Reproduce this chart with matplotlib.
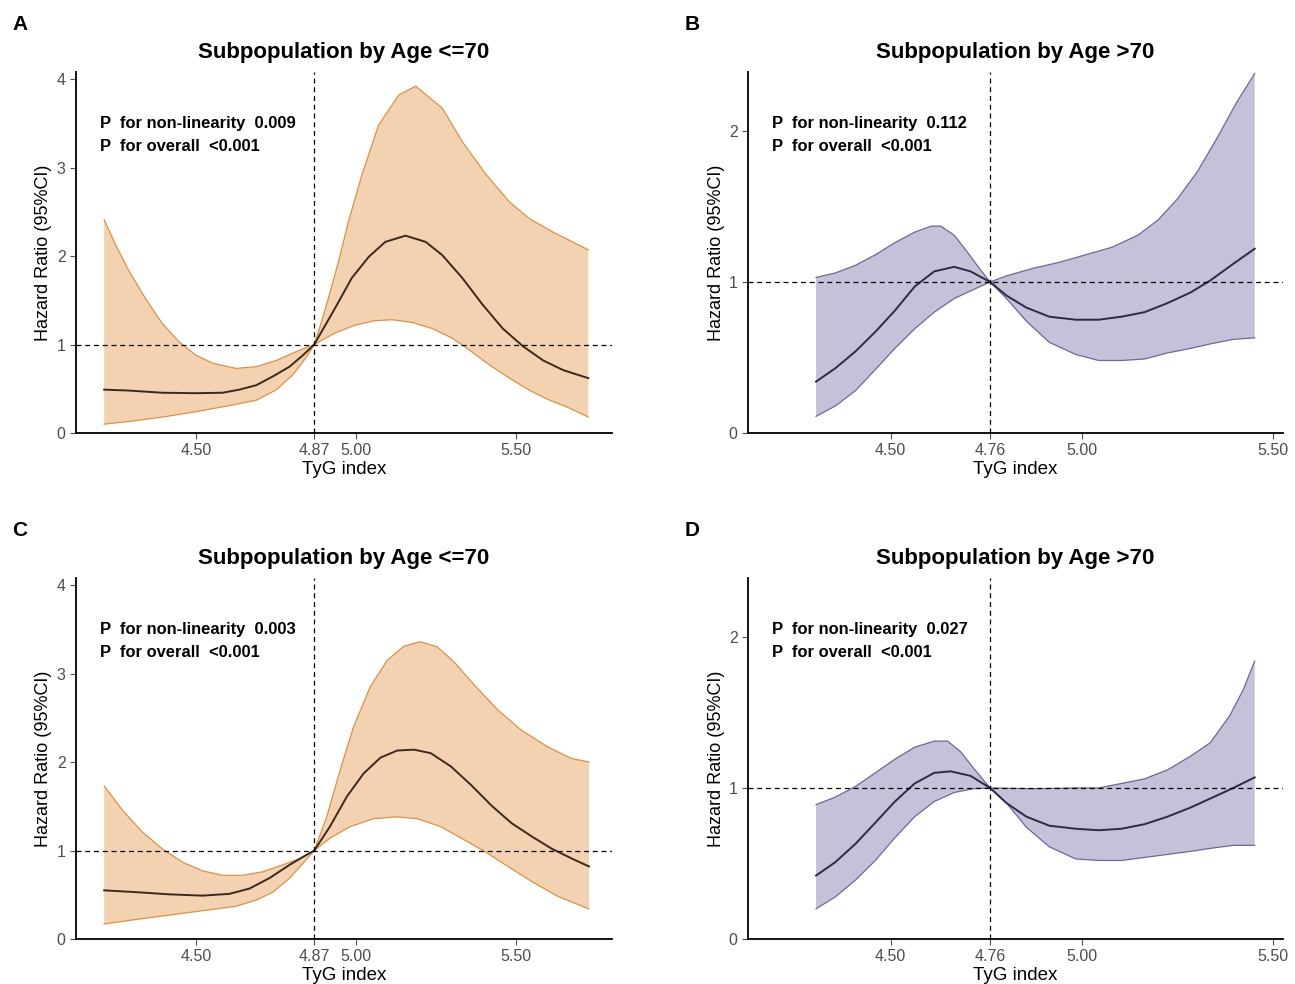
import numpy as np
import matplotlib
matplotlib.use("Agg")
import matplotlib.pyplot as plt

plt.rcParams['font.family'] = ['Liberation Sans', 'DejaVu Sans']

# ---- panel A (age <= 70) ----
a_hr_x = [4.214, 4.290, 4.395, 4.500, 4.584, 4.636, 4.689, 4.741, 4.793, 4.835, 4.870, 4.935,
          4.987, 5.040, 5.092, 5.155, 5.218, 5.270, 5.333, 5.396, 5.459, 5.522, 5.585, 5.648, 5.726]
a_hr = [0.49, 0.48, 0.455, 0.45, 0.455, 0.49, 0.54, 0.64, 0.75, 0.88, 1.00, 1.41,
        1.75, 1.99, 2.16, 2.23, 2.16, 2.01, 1.75, 1.45, 1.18, 0.98, 0.82, 0.71, 0.62]
a_lo_x = [4.214, 4.290, 4.395, 4.500, 4.605, 4.689, 4.752, 4.804, 4.846, 4.870, 4.935, 4.998,
          5.061, 5.113, 5.176, 5.239, 5.302, 5.354, 5.417, 5.480, 5.543, 5.606, 5.668, 5.726]
a_lo = [0.10, 0.13, 0.18, 0.24, 0.31, 0.37, 0.49, 0.66, 0.86, 1.00, 1.13, 1.22,
        1.27, 1.28, 1.25, 1.18, 1.07, 0.94, 0.77, 0.62, 0.48, 0.37, 0.28, 0.18]
a_hi_x = [4.214, 4.248, 4.290, 4.343, 4.395, 4.448, 4.500, 4.552, 4.626, 4.689, 4.752, 4.814,
          4.870, 4.893, 4.914, 4.946, 4.977, 5.019, 5.071, 5.134, 5.187, 5.270, 5.333, 5.407,
          5.480, 5.543, 5.616, 5.726]
a_hi = [2.41, 2.14, 1.84, 1.52, 1.24, 1.03, 0.88, 0.79, 0.73, 0.75, 0.82, 0.92,
        1.00, 1.26, 1.52, 1.94, 2.39, 2.92, 3.48, 3.82, 3.92, 3.67, 3.29, 2.92,
        2.61, 2.42, 2.27, 2.07]

# ---- panel B (age > 70) ----
b_hr_x = [4.305, 4.356, 4.408, 4.460, 4.511, 4.563, 4.614, 4.666, 4.709, 4.760, 4.803,
          4.855, 4.915, 4.984, 5.044, 5.104, 5.164, 5.224, 5.284, 5.336, 5.396, 5.452]
b_hr = [0.34, 0.43, 0.54, 0.67, 0.81, 0.97, 1.07, 1.10, 1.07, 1.00, 0.91,
        0.83, 0.77, 0.75, 0.75, 0.77, 0.80, 0.86, 0.93, 1.01, 1.12, 1.22]
b_lo_x = [4.305, 4.356, 4.408, 4.460, 4.511, 4.563, 4.614, 4.666, 4.717, 4.760, 4.803,
          4.855, 4.915, 4.984, 5.044, 5.104, 5.164, 5.224, 5.284, 5.336, 5.396, 5.452]
b_lo = [0.11, 0.18, 0.28, 0.42, 0.56, 0.69, 0.80, 0.89, 0.95, 1.00, 0.89,
        0.74, 0.60, 0.52, 0.48, 0.48, 0.49, 0.53, 0.56, 0.59, 0.62, 0.63]
b_hi_x = [4.305, 4.356, 4.408, 4.460, 4.511, 4.563, 4.606, 4.631, 4.666, 4.700, 4.735, 4.760,
          4.803, 4.872, 4.941, 5.010, 5.079, 5.147, 5.199, 5.250, 5.302, 5.353, 5.405, 5.452]
b_hi = [1.03, 1.06, 1.11, 1.18, 1.26, 1.33, 1.37, 1.37, 1.31, 1.20, 1.08, 1.00,
        1.04, 1.09, 1.13, 1.18, 1.23, 1.31, 1.41, 1.55, 1.73, 1.95, 2.19, 2.38]

# ---- panel C (age <= 70) ----
c_hr_x = [4.214, 4.312, 4.416, 4.521, 4.605, 4.668, 4.731, 4.794, 4.836, 4.870, 4.919, 4.972,
          5.024, 5.077, 5.129, 5.182, 5.234, 5.297, 5.360, 5.423, 5.486, 5.549, 5.612, 5.674, 5.728]
c_hr = [0.55, 0.53, 0.505, 0.49, 0.51, 0.57, 0.69, 0.84, 0.93, 1.00, 1.27, 1.61,
        1.87, 2.05, 2.13, 2.14, 2.10, 1.95, 1.74, 1.51, 1.31, 1.16, 1.02, 0.91, 0.82]
c_lo_x = [4.214, 4.312, 4.416, 4.521, 4.626, 4.689, 4.741, 4.794, 4.836, 4.870, 4.919,
          4.982, 5.056, 5.129, 5.192, 5.265, 5.339, 5.402, 5.475, 5.549, 5.632, 5.728]
c_lo = [0.17, 0.22, 0.27, 0.32, 0.37, 0.44, 0.53, 0.69, 0.86, 1.00, 1.14,
        1.27, 1.36, 1.38, 1.36, 1.27, 1.12, 0.99, 0.82, 0.65, 0.48, 0.34]
c_hi_x = [4.214, 4.270, 4.333, 4.395, 4.458, 4.521, 4.584, 4.647, 4.710, 4.773, 4.825, 4.870,
          4.909, 4.951, 4.993, 5.045, 5.098, 5.150, 5.202, 5.255, 5.307, 5.370, 5.443, 5.517,
          5.600, 5.674, 5.728]
c_hi = [1.73, 1.46, 1.21, 1.02, 0.87, 0.77, 0.72, 0.72, 0.76, 0.84, 0.91, 1.00,
        1.38, 1.91, 2.40, 2.85, 3.15, 3.31, 3.36, 3.30, 3.13, 2.87, 2.59, 2.36,
        2.17, 2.04, 2.00]

# ---- panel D (age > 70) ----
d_hr_x = [4.305, 4.356, 4.408, 4.460, 4.511, 4.563, 4.614, 4.657, 4.709, 4.760, 4.803,
          4.855, 4.915, 4.984, 5.044, 5.104, 5.164, 5.224, 5.284, 5.336, 5.396, 5.452]
d_hr = [0.42, 0.51, 0.63, 0.77, 0.91, 1.03, 1.10, 1.11, 1.08, 1.00, 0.90,
        0.81, 0.75, 0.73, 0.72, 0.73, 0.76, 0.81, 0.87, 0.93, 1.00, 1.07]
d_lo_x = [4.305, 4.356, 4.408, 4.460, 4.511, 4.563, 4.614, 4.666, 4.717, 4.760, 4.803,
          4.855, 4.915, 4.984, 5.044, 5.104, 5.164, 5.224, 5.284, 5.336, 5.396, 5.452]
d_lo = [0.20, 0.28, 0.39, 0.52, 0.67, 0.81, 0.91, 0.97, 0.995, 1.00, 0.90,
        0.74, 0.61, 0.53, 0.52, 0.52, 0.54, 0.56, 0.58, 0.60, 0.62, 0.62]
d_hi_x = [4.305, 4.356, 4.408, 4.460, 4.511, 4.563, 4.614, 4.649, 4.683, 4.717, 4.760,
          4.872, 4.984, 5.044, 5.104, 5.164, 5.224, 5.284, 5.336, 5.387, 5.422, 5.452]
d_hi = [0.89, 0.94, 1.01, 1.10, 1.19, 1.27, 1.31, 1.31, 1.24, 1.13, 1.00,
        0.995, 1.00, 1.00, 1.03, 1.06, 1.12, 1.21, 1.30, 1.48, 1.65, 1.84]

ticks_young = [4.50, 4.87, 5.00, 5.50]
ticks_old = [4.50, 4.76, 5.00, 5.50]
p_nonlin = ['0.009', '0.112', '0.003', '0.027']

orange = dict(fill='#f2d2b1', edge='#df9140', line='#3b2a1c')
purple = dict(fill='#c4c1d8', edge='#6c689b', line='#2c2a44')

fig = plt.figure(figsize=(12.95, 9.84), dpi=100)

W, H = 1295.0, 984.0
# pixel boxes (left, top, right, bottom) of each plotting area
boxes = [(76, 72, 612, 433), (748, 72, 1283, 433),
         (76, 578, 612, 939), (748, 578, 1283, 939)]

panels = [
    ('A', 'Subpopulation by Age <=70', (a_hr_x, a_hr), (a_lo_x, a_lo), (a_hi_x, a_hi),
     ticks_young, 4.87, orange, (4.126, 5.80), 4.08, [0, 1, 2, 3, 4]),
    ('B', 'Subpopulation by Age >70', (b_hr_x, b_hr), (b_lo_x, b_lo), (b_hi_x, b_hi),
     ticks_old, 4.76, purple, (4.127, 5.526), 2.39, [0, 1, 2]),
    ('C', 'Subpopulation by Age <=70', (c_hr_x, c_hr), (c_lo_x, c_lo), (c_hi_x, c_hi),
     ticks_young, 4.87, orange, (4.126, 5.80), 4.08, [0, 1, 2, 3, 4]),
    ('D', 'Subpopulation by Age >70', (d_hr_x, d_hr), (d_lo_x, d_lo), (d_hi_x, d_hi),
     ticks_old, 4.76, purple, (4.127, 5.526), 2.39, [0, 1, 2]),
]

for i, (letter, title, est, low, high, xt, knot, col, xl, ytop, yt) in enumerate(panels):
    l, t, r, b = boxes[i]
    ax = fig.add_axes([l / W, 1 - b / H, (r - l) / W, (b - t) / H])

    # confidence band: lower bound forward, upper bound back
    band_x = np.concatenate([low[0], high[0][::-1]])
    band_y = np.concatenate([low[1], high[1][::-1]])
    ax.fill(band_x, band_y, color=col['fill'], lw=0, zorder=1)
    ax.plot(low[0], low[1], color=col['edge'], lw=0.9, zorder=2)
    ax.plot(high[0], high[1], color=col['edge'], lw=0.9, zorder=2)
    ax.plot(est[0], est[1], color=col['line'], lw=1.4, zorder=3)

    # reference lines
    ax.axhline(1, color='black', lw=0.9, ls=(0, (4, 3)), zorder=4)
    ax.axvline(knot, color='black', lw=0.9, ls=(0, (4, 3)), zorder=4)

    ax.set_xlim(xl)
    ax.set_ylim(0, ytop)
    ax.set_xticks(xt)
    ax.set_xticklabels(['%.2f' % v for v in xt])
    ax.set_yticks(yt)
    ax.tick_params(colors='#4d4d4d', labelsize=11.5, length=4, width=0.8)
    for s in ['top', 'right']:
        ax.spines[s].set_visible(False)
    for s in ['left', 'bottom']:
        ax.spines[s].set_linewidth(1.3)

    ax.set_xlabel('TyG index', fontsize=13.5, labelpad=2)
    ax.set_ylabel('Hazard Ratio (95%CI)', fontsize=13, labelpad=3)
    ax.set_title(title, fontsize=16, fontweight='bold', pad=10)

    ax.text(0.045, 0.856, 'P  for non-linearity  ' + p_nonlin[i], transform=ax.transAxes,
            fontsize=11.9, fontweight='bold', va='center')
    ax.text(0.045, 0.795, 'P  for overall  <0.001', transform=ax.transAxes,
            fontsize=11.9, fontweight='bold', va='center')

    # panel letter
    fig.text((l - 56) / W, 1 - (t - 48) / H, letter, fontsize=15, fontweight='bold',
             ha='center', va='center')

fig.savefig('out.png', dpi=100)
